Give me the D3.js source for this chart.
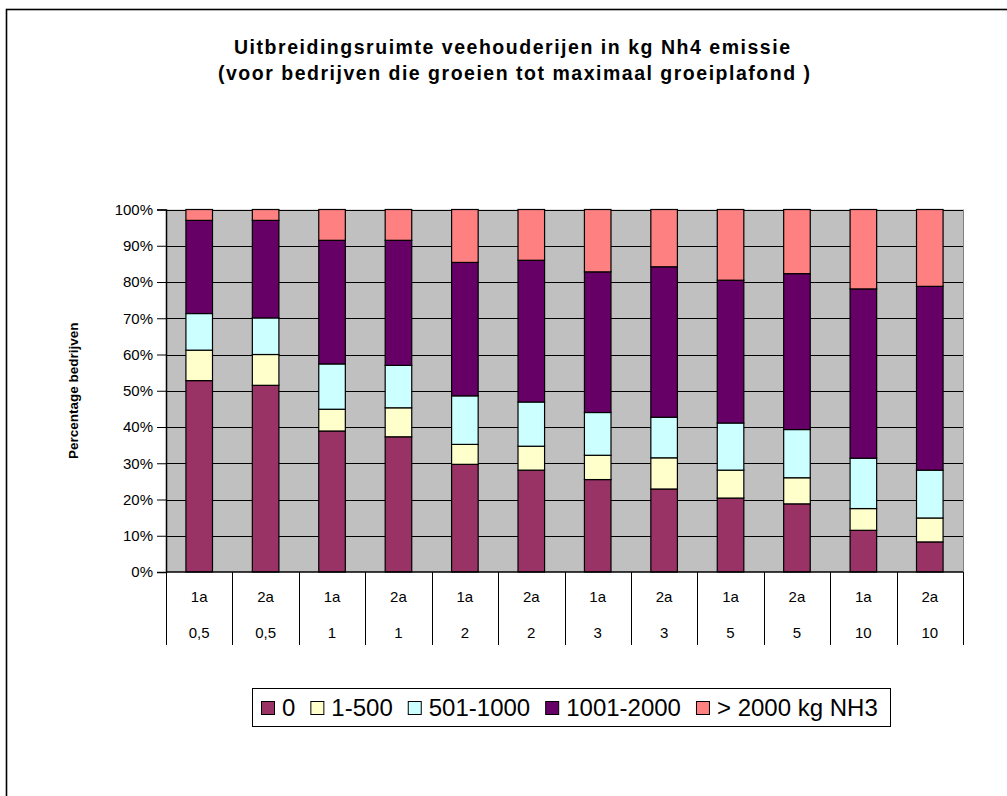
<!DOCTYPE html>
<html>
<meta charset="utf-8">
<style>
body { margin: 0; background: #fff; }
text { font-family: Arial, "Liberation Sans", sans-serif; }
</style>
<body>
<svg width="1007" height="796"></svg>
<script src="https://d3js.org/d3.v7.min.js"></script>
<script>

// categories: two rows of labels under the bars
var scenario = ["1a", "2a", "1a", "2a", "1a", "2a", "1a", "2a", "1a", "2a", "1a", "2a"];
var growth = ["0,5", "0,5", "1", "1", "2", "2", "3", "3", "5", "5", "10", "10"];

// series values (percent of companies)
var classes = ["0", "1-500", "501-1000", "1001-2000", "> 2000 kg NH3"];
var s0    = [52.8, 51.5, 38.9, 37.3, 29.7, 28.1, 25.5, 22.9, 20.4, 18.8, 11.5, 8.3];
var s500  = [8.4, 8.5, 6.0, 8.0, 5.5, 6.6, 6.7, 8.6, 7.7, 7.2, 6.0, 6.6];
var s1000 = [10.1, 10.1, 12.5, 11.7, 13.4, 12.2, 11.8, 11.2, 13.0, 13.3, 13.9, 13.2];
var s2000 = [25.7, 26.9, 34.1, 34.5, 36.8, 39.1, 38.8, 41.5, 39.4, 43.0, 46.7, 50.7];
var sOver = [3.0, 3.0, 8.5, 8.5, 14.6, 14.0, 17.2, 15.8, 19.5, 17.7, 21.9, 21.2];

var yTicks = [0, 10, 20, 30, 40, 50, 60, 70, 80, 90, 100];
var colors = ["#993366", "#FFFFCC", "#CCFFFF", "#660066", "#FF8080"];

var svg = d3.select("svg");

// outer chart border (runs off the picture right and bottom)
svg.append("rect")
    .attr("x", 6.5).attr("y", 9.5)
    .attr("width", 1100).attr("height", 1000)
    .attr("fill", "none").attr("stroke", "#000").attr("stroke-width", 1.6);

var plotL = 166, plotR = 963, plotT = 209.5, plotB = 572;

var rows = scenario.map(function(d, i) {
  return { i: i, "0": s0[i], "1-500": s500[i], "501-1000": s1000[i],
           "1001-2000": s2000[i], "> 2000 kg NH3": sOver[i] };
});
var stacked = d3.stack().keys(classes)(rows);

var x = d3.scaleBand().domain(d3.range(scenario.length))
    .range([plotL, plotR]).paddingInner(0.6).paddingOuter(0.3);
var xCell = d3.scaleBand().domain(d3.range(scenario.length)).range([plotL, plotR]);
var y = d3.scaleLinear().domain([0, 100]).range([plotB, plotT]);

// plot background
svg.append("rect")
    .attr("x", plotL).attr("y", plotT)
    .attr("width", plotR - plotL).attr("height", plotB - plotT)
    .attr("fill", "#C0C0C0");

// gridlines
svg.append("g").selectAll("line")
  .data(yTicks.slice(1))
  .enter().append("line")
    .attr("x1", plotL).attr("x2", plotR)
    .attr("y1", function(d) { return Math.round(y(d)) + 0.5; })
    .attr("y2", function(d) { return Math.round(y(d)) + 0.5; })
    .attr("stroke", "#000").attr("stroke-width", 1);

svg.append("line")
    .attr("x1", plotR + 0.5).attr("x2", plotR + 0.5)
    .attr("y1", plotT).attr("y2", plotB)
    .attr("stroke", "#808080");

// bars
svg.append("g").selectAll("g")
  .data(stacked)
  .enter().append("g")
    .attr("fill", function(d, i) { return colors[i]; })
  .selectAll("rect")
  .data(function(d) { return d; })
  .enter().append("rect")
    .attr("x", function(d) { return x(d.data.i); })
    .attr("width", x.bandwidth())
    .attr("y", function(d) { return y(d[1]); })
    .attr("height", function(d) { return y(d[0]) - y(d[1]); })
    .attr("stroke", "#000").attr("stroke-width", 1.2);

// y axis
var yAxis = svg.append("g")
    .attr("transform", "translate(" + plotL + ",0)")
    .call(d3.axisLeft(y).tickValues(yTicks).tickSize(9).tickPadding(4)
      .tickFormat(function(d) { return d + "%"; }));
yAxis.select(".domain").attr("stroke", "#000").attr("stroke-width", 1.5);
yAxis.selectAll(".tick line").attr("stroke", "#000");
yAxis.selectAll("text").attr("font-size", 15).attr("fill", "#000")
    .attr("font-family", "Arial, 'Liberation Sans', sans-serif");

// x axis line and label table
svg.append("line")
    .attr("x1", plotL).attr("x2", plotR)
    .attr("y1", plotB).attr("y2", plotB)
    .attr("stroke", "#000").attr("stroke-width", 1.5);

var bounds = d3.range(scenario.length + 1);
svg.append("g").selectAll("line")
  .data(bounds)
  .enter().append("line")
    .attr("x1", function(d) { return Math.round(plotL + d * xCell.step()) + 0.5; })
    .attr("x2", function(d) { return Math.round(plotL + d * xCell.step()) + 0.5; })
    .attr("y1", plotB).attr("y2", 645)
    .attr("stroke", "#000").attr("stroke-width", 1);

svg.append("g").selectAll("text")
  .data(scenario)
  .enter().append("text")
    .attr("x", function(d, i) { return xCell(i) + xCell.bandwidth() / 2; })
    .attr("y", 602)
    .attr("text-anchor", "middle").attr("font-size", 15)
    .text(function(d) { return d; });

svg.append("g").selectAll("text")
  .data(growth)
  .enter().append("text")
    .attr("x", function(d, i) { return xCell(i) + xCell.bandwidth() / 2; })
    .attr("y", 638)
    .attr("text-anchor", "middle").attr("font-size", 15)
    .text(function(d) { return d; });

// y axis title
svg.append("text")
    .attr("transform", "translate(78," + (plotT + plotB) / 2 + ") rotate(-90)")
    .attr("text-anchor", "middle").attr("font-size", 13.5).attr("font-weight", "bold")
    .text("Percentage bedrijven");

// chart title
var title = svg.append("text")
    .attr("text-anchor", "middle").attr("font-size", 19.5).attr("font-weight", "bold");
title.append("tspan").attr("x", 512).attr("y", 54)
    .attr("textLength", 556).attr("lengthAdjust", "spacing")
    .text("Uitbreidingsruimte veehouderijen in kg Nh4 emissie");
title.append("tspan").attr("x", 514).attr("y", 80)
    .attr("textLength", 592).attr("lengthAdjust", "spacing")
    .text("(voor bedrijven die groeien tot maximaal groeiplafond )");

// legend
var legend = svg.append("g");
legend.append("rect")
    .attr("x", 252.5).attr("y", 688.5).attr("width", 638).attr("height", 38)
    .attr("fill", "#fff").attr("stroke", "#000").attr("stroke-width", 1);

var lx = 261;
classes.forEach(function(c, i) {
  var item = legend.append("g").attr("transform", "translate(" + lx + ",0)");
  item.append("rect")
      .attr("x", 0.5).attr("y", 701.5).attr("width", 13).attr("height", 13)
      .attr("fill", colors[i]).attr("stroke", "#000");
  var t = item.append("text")
      .attr("x", 21).attr("y", 716)
      .attr("font-size", 24)
      .text(c);
  lx += 21 + t.node().getComputedTextLength() + 15;
});

</script>
</body>
</html>
